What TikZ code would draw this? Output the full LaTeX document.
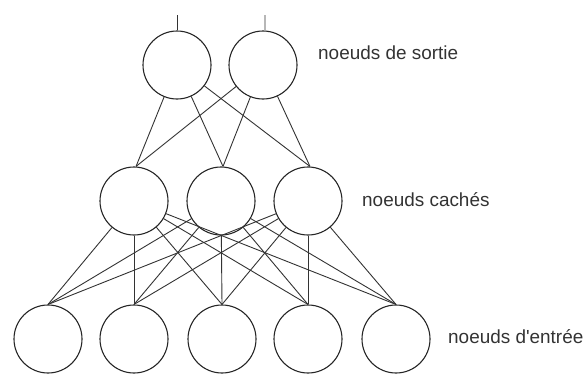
\documentclass[tikz,border=0pt]{standalone}
\usepackage{fontspec}
\setmainfont{Liberation Sans}
\begin{document}
\begin{tikzpicture}[x=1bp,y=-1bp,
  neuron/.style={circle,draw=black!85,line width=1.1bp,minimum size=68bp,inner sep=0pt},
  link/.style={draw=black!80,line width=0.9bp},
  lbl/.style={anchor=base west,inner sep=0pt,text=black!80,font=\fontsize{19}{22}\selectfont}]
\useasboundingbox (0,0) rectangle (586,376);
% output nodes
\node[neuron] (o1) at (177,65) {};
\node[neuron] (o2) at (263,65) {};
% hidden nodes
\node[neuron] (h1) at (134,201) {};
\node[neuron] (h2) at (221,201) {};
\node[neuron] (h3) at (308,201) {};
% input nodes
\node[neuron] (i1) at (48,339) {};
\node[neuron] (i2) at (134,339) {};
\node[neuron] (i3) at (222,339) {};
\node[neuron] (i4) at (308,339) {};
\node[neuron] (i5) at (396,339) {};
% output stems
\coordinate (t1) at (177,15);
\coordinate (t2) at (265,15);
\draw[link] (o1.north) -- (t1);
\draw[link] ([xshift=2bp]o2.north) -- (t2);
% output to hidden
\foreach \o in {o1,o2}
  \foreach \h in {h1,h2,h3}
    \draw[link] (\o) -- ([xshift=2bp]\h.north);
% hidden to input
\foreach \h in {h1,h2,h3}
  \foreach \i in {i1,i2,i3,i4,i5}
    \draw[link] (\h) -- (\i.north);
% labels
\node[lbl] (ls) at (318,59) {noeuds de sortie};
\node[lbl] (lc) at (362,206) {noeuds cachés};
\node[lbl] (le) at (448,343) {noeuds d\textquotesingle entrée};
\end{tikzpicture}
\end{document}
